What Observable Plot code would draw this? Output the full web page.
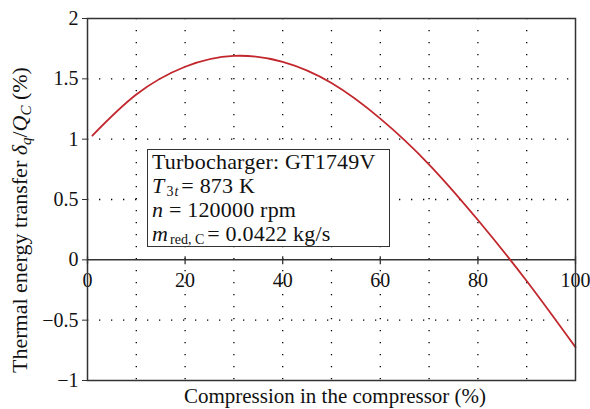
<!DOCTYPE html>
<html>
<head>
<meta charset="utf-8">
<script src="https://cdn.jsdelivr.net/npm/d3@7"></script>
<script src="https://cdn.jsdelivr.net/npm/@observablehq/plot@0.6"></script>
<style>
  html, body { margin: 0; padding: 0; background: #fff; }
  #wrap { position: relative; width: 590px; height: 409px; font-family: "Liberation Serif", "DejaVu Serif", serif; }
  #legend {
    position: absolute; left: 147px; top: 149px; width: 243px; height: 98px; box-sizing: border-box;
    border: 1.5px solid #333; background: #fff; padding: 0 0 0 4px;
    font-size: 22px; letter-spacing: 0.2px; color: #111; white-space: nowrap;
  }
  #legend div { height: 24px; line-height: 24px; }
  #legend sub { font-size: 14px; vertical-align: baseline; position: relative; top: 3px; line-height: 0; letter-spacing: 0; margin-left: 2px; margin-right: 3px; }
  #legend sub i { margin-left: 1px; }
</style>
</head>
<body>
<div id="wrap"></div>
<script>
// Data
const compression = [1, 10, 20, 30, 40, 50, 60, 70, 80, 90, 100];
const transfer = [1.03, 1.37, 1.60, 1.69, 1.64, 1.465, 1.17, 0.79, 0.33, -0.175, -0.724];
const xTicks = [0, 20, 40, 60, 80, 100];
const xGrid = [10, 20, 30, 40, 50, 60, 70, 80, 90];
const yTicks = [-1, -0.5, 0, 0.5, 1, 1.5, 2];
const yGrid = [-0.5, 0.5, 1, 1.5];
const xTitle = "Compression in the compressor (%)";
const legendLines = [
  "Turbocharger: GT1749V",
  "<i>T</i><sub>3<i>t</i></sub>= 873 K",
  "<i>n</i> = 120000 rpm",
  "<i>m</i><sub>red, C</sub>= 0.0422 kg/s"
];

const data = compression.map((x, i) => ({x, y: transfer[i]}));
const fmt = d => (d < 0 ? "\u2212" + Math.abs(d) : String(d));
const svgNS = "http://www.w3.org/2000/svg";

function yLabelMark(index, scales, values, dims) {
  const t = document.createElementNS(svgNS, "text");
  t.setAttribute("transform", `translate(27,220) rotate(-90)`);
  t.setAttribute("text-anchor", "middle");
  t.setAttribute("font-size", "22");
  t.setAttribute("fill", "#111");
  const parts = [
    ["Thermal energy transfer ", 0, false, 22],
    ["\u03B4", 0, true, 22],
    ["q", 4, true, 15],
    ["/", -4, false, 22],
    ["Q", 0, true, 22],
    ["C", 4, true, 15],
    [" (%)", -4, false, 22]
  ];
  for (const [s, dy, it, fs] of parts) {
    const ts = document.createElementNS(svgNS, "tspan");
    ts.textContent = s;
    if (it) ts.setAttribute("font-style", "italic");
    ts.setAttribute("font-size", fs);
    if (dy) ts.setAttribute("dy", dy);
    t.appendChild(ts);
  }
  return t;
}

function xLabelMark(index, scales, values, dims) {
  const t = document.createElementNS(svgNS, "text");
  const cx = (dims.marginLeft + dims.width - dims.marginRight) / 2 + 4;
  t.setAttribute("x", cx);
  t.setAttribute("y", dims.height - 6);
  t.setAttribute("text-anchor", "middle");
  t.setAttribute("font-size", "21");
  t.setAttribute("fill", "#111");
  t.textContent = xTitle;
  return t;
}

const chart = Plot.plot({
  width: 590,
  height: 409,
  marginLeft: 87,
  marginRight: 15,
  marginTop: 18,
  marginBottom: 29,
  style: {fontFamily: "Liberation Serif, DejaVu Serif, serif", fontSize: "20px", background: "#fff", color: "#111"},
  x: {domain: [0, 100]},
  y: {domain: [-1, 2]},
  marks: [
    Plot.ruleX(xGrid, {x: d => d, stroke: "#000", strokeWidth: 1.3, strokeDasharray: "1.3,10.7"}),
    Plot.ruleY(yGrid, {y: d => d, stroke: "#000", strokeWidth: 1.3, strokeDasharray: "1.3,10.7"}),
    Plot.ruleY([0], {stroke: "#333", strokeWidth: 1.5}),
    Plot.ruleX(xTicks, {x: d => d, y1: 0, y2: 0, insetTop: -3, insetBottom: -5, stroke: "#333", strokeWidth: 1.3}),
    Plot.text(xTicks, {x: d => d, y: 0, dy: 21, text: d => String(d), fontSize: 20, fill: "#111"}),
    Plot.axisY({ticks: yTicks, tickFormat: fmt, tickSize: 5, tickPadding: 4, fontSize: 20, label: null, stroke: "#333"}),
    Plot.axisX({ticks: [], label: null}),
    Plot.line(data, {x: "x", y: "y", curve: "natural", stroke: "#c1272d", strokeWidth: 1.8}),
    Plot.frame({stroke: "#333", strokeWidth: 1.5}),
    yLabelMark,
    xLabelMark
  ]
});

const wrap = document.getElementById("wrap");
wrap.appendChild(chart);
const leg = document.createElement("div");
leg.id = "legend";
leg.innerHTML = legendLines.map(l => `<div>${l}</div>`).join("");
wrap.appendChild(leg);
</script>
</body>
</html>
